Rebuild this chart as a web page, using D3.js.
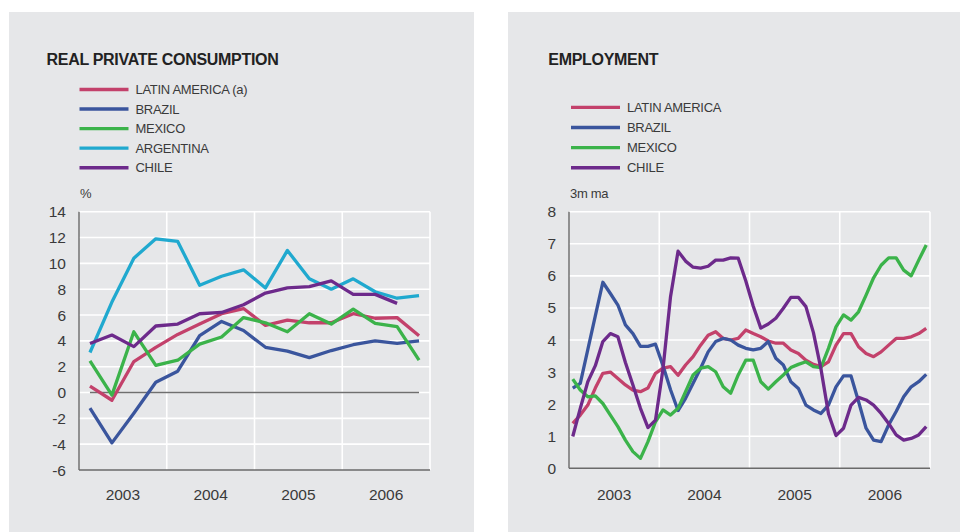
<!DOCTYPE html>
<html>
<head>
<meta charset="utf-8">
<style>
  body { margin: 0; background: #fff; }
  svg { font-family: "Liberation Sans", Arial, sans-serif; display: block; }
  .title { font-size: 16px; font-weight: bold; fill: #222; letter-spacing: -0.3px; }
  .legend text, .unit { font-size: 13px; fill: #3a3a3a; letter-spacing: -0.3px; }
  .tick { font-size: 15.5px; fill: #3a3a3a; }
</style>
</head>
<body>
<svg width="960" height="532"></svg>
<script src="https://d3js.org/d3.v7.min.js"></script>
<script>

// ---- data ----
var years = ["2003", "2004", "2005", "2006"];

// real private consumption, quarterly, %
var rpcYTicks = [-6, -4, -2, 0, 2, 4, 6, 8, 10, 12, 14];
var rpcLatam     = [0.5, -0.6, 2.4, 3.5, 4.5, 5.3, 6.1, 6.5, 5.2, 5.6, 5.4, 5.4, 6.1, 5.75, 5.8, 4.4];
var rpcBrazil    = [-1.2, -3.9, -1.6, 0.8, 1.65, 4.4, 5.5, 4.8, 3.5, 3.2, 2.7, 3.25, 3.7, 4.0, 3.8, 4.0];
var rpcMexico    = [2.45, -0.2, 4.7, 2.1, 2.5, 3.75, 4.3, 5.8, 5.4, 4.7, 6.1, 5.3, 6.45, 5.35, 5.1, 2.5];
var rpcArgentina = [3.1, 7.0, 10.4, 11.9, 11.7, 8.3, 9.0, 9.5, 8.1, 11.0, 8.8, 8.0, 8.8, 7.8, 7.3, 7.5];
var rpcChile     = [3.8, 4.45, 3.55, 5.15, 5.3, 6.1, 6.2, 6.8, 7.7, 8.1, 8.2, 8.65, 7.6, 7.6, 6.9, null];

// employment, monthly, 3m ma
var empYTicks = [0, 1, 2, 3, 4, 5, 6, 7, 8];
var empLatam = [
  1.4, 1.66, 1.97, 2.5, 2.96, 3.0, 2.8, 2.6, 2.44, 2.39, 2.5, 2.96,
  3.12, 3.17, 2.9, 3.22, 3.48, 3.84, 4.15, 4.26, 4.05, 4.0, 4.05, 4.31,
  4.2, 4.1, 3.97, 3.9, 3.9, 3.69, 3.58, 3.37, 3.24, 3.17, 3.32, 3.84,
  4.2, 4.2, 3.79, 3.58, 3.48, 3.63, 3.84, 4.05, 4.05, 4.1, 4.2, 4.36];
var empBrazil = [
  2.5, 2.65, 3.7, 4.75, 5.8, 5.45, 5.09, 4.47, 4.2, 3.8, 3.8, 3.87,
  3.2, 2.45, 1.8, 2.18, 2.65, 3.12, 3.63, 3.95, 4.05, 4.0, 3.84, 3.74,
  3.69, 3.74, 3.95, 3.43, 3.22, 2.7, 2.49, 1.97, 1.82, 1.71, 1.97, 2.54,
  2.88, 2.88, 2.08, 1.25, 0.88, 0.83, 1.35, 1.77, 2.23, 2.54, 2.7, 2.93];
var empMexico = [
  2.78, 2.44, 2.23, 2.26, 2.02, 1.66, 1.3, 0.88, 0.52, 0.31, 0.83, 1.45,
  1.82, 1.66, 1.87, 2.39, 2.91, 3.12, 3.17, 3.01, 2.54, 2.34, 2.91, 3.37,
  3.37, 2.7, 2.47, 2.7, 2.91, 3.14, 3.24, 3.32, 3.17, 3.14, 3.74, 4.41,
  4.78, 4.62, 4.88, 5.4, 5.94, 6.33, 6.56, 6.56, 6.18, 6.0, 6.49, 6.96];
var empChile = [
  0.99, 1.87, 2.7, 3.2, 3.95, 4.2, 4.1, 3.3, 2.6, 1.87, 1.27, 1.5,
  3.1, 5.35, 6.77, 6.46, 6.27, 6.24, 6.3, 6.49, 6.49, 6.56, 6.55, 5.85,
  5.05, 4.37, 4.5, 4.68, 4.99, 5.33, 5.33, 5.04, 4.23, 3.1, 1.7, 1.02,
  1.25, 1.97, 2.21, 2.13, 1.97, 1.71, 1.4, 1.04, 0.88, 0.93, 1.04, 1.3];

var colors = {
  latam: "#c3416b",
  brazil: "#3a559d",
  mexico: "#3bb34a",
  argentina: "#20a9cf",
  chile: "#6d2a8b"
};

var svg = d3.select("svg");

function drawPanel(p) {
  var g = svg.append("g");

  g.append("rect")
      .attr("x", p.panel[0]).attr("y", 12)
      .attr("width", p.panel[1] - p.panel[0]).attr("height", 520)
      .attr("fill", "#e6e7e9");

  g.append("text").attr("class", "title")
      .attr("x", p.titleX).attr("y", 65)
      .text(p.title);

  // legend
  var lg = g.append("g").attr("class", "legend");
  p.series.forEach(function(s, i) {
    var y = p.legendY + i * p.legendStep;
    lg.append("line")
        .attr("x1", p.legendX).attr("x2", p.legendX + 49)
        .attr("y1", y).attr("y2", y)
        .attr("stroke", s.color).attr("stroke-width", 3.4);
    lg.append("text")
        .attr("x", p.legendX + 56).attr("y", y + 4.6)
        .text(s.name);
  });

  g.append("text").attr("class", "unit")
      .attr("x", p.x0 + 1).attr("y", 198)
      .text(p.unit);

  var n = p.series[0].values.length;
  var x = d3.scaleLinear().domain([0, n]).range([p.x0, p.x1]);
  var y = d3.scaleLinear().domain(d3.extent(p.yTicks)).range([p.y1, p.y0]);
  var per = n / years.length;

  // gridlines
  g.selectAll(".hg").data(p.yTicks.slice(1)).enter().append("line")
      .attr("x1", p.x0).attr("x2", p.x1)
      .attr("y1", function(d) { return y(d); }).attr("y2", function(d) { return y(d); })
      .attr("stroke", "#fff").attr("stroke-width", 1.6);
  g.selectAll(".vg").data(years).enter().append("line")
      .attr("x1", function(d, i) { return x((i + 1) * per); })
      .attr("x2", function(d, i) { return x((i + 1) * per); })
      .attr("y1", p.y0).attr("y2", p.y1)
      .attr("stroke", "#fff").attr("stroke-width", 1.6);

  if (p.zeroLine) {
    g.append("line")
        .attr("x1", x(0.5)).attr("x2", x(n - 0.5))
        .attr("y1", y(0)).attr("y2", y(0))
        .attr("stroke", "#6f6f6f").attr("stroke-width", 1.3);
  }

  // axes lines
  g.append("line")
      .attr("x1", p.x0).attr("x2", p.x0).attr("y1", p.y0).attr("y2", p.y1)
      .attr("stroke", "#6a6a6a").attr("stroke-width", 1.4);
  g.append("line")
      .attr("x1", p.x0).attr("x2", p.x1).attr("y1", p.y1).attr("y2", p.y1)
      .attr("stroke", "#6a6a6a").attr("stroke-width", 1.4);

  // tick labels
  g.selectAll(".yt").data(p.yTicks).enter().append("text")
      .attr("class", "tick")
      .attr("text-anchor", "end")
      .attr("x", p.x0 - 13)
      .attr("y", function(d) { return y(d) + 5.5; })
      .text(function(d) { return d; });
  g.selectAll(".xt").data(years).enter().append("text")
      .attr("class", "tick")
      .attr("text-anchor", "middle")
      .attr("x", function(d, i) { return x((i + 0.5) * per); })
      .attr("y", 500)
      .text(function(d) { return d; });

  // series lines
  var line = d3.line()
      .defined(function(d) { return d != null; })
      .x(function(d, i) { return x(i + 0.5); })
      .y(function(d) { return y(d); });

  p.series.forEach(function(s) {
    g.append("path")
        .attr("d", line(s.values))
        .attr("fill", "none")
        .attr("stroke", s.color)
        .attr("stroke-width", 3.3)
        .attr("stroke-linejoin", "round");
  });
}

drawPanel({
  panel: [9, 474],
  title: "REAL PRIVATE CONSUMPTION",
  titleX: 46.5,
  legendX: 79.5, legendY: 89.5, legendStep: 19.55,
  unit: "%",
  x0: 79, x1: 430, y0: 211.7, y1: 470,
  yTicks: rpcYTicks,
  zeroLine: true,
  series: [
    { name: "LATIN AMERICA (a)", color: colors.latam, values: rpcLatam },
    { name: "BRAZIL", color: colors.brazil, values: rpcBrazil },
    { name: "MEXICO", color: colors.mexico, values: rpcMexico },
    { name: "ARGENTINA", color: colors.argentina, values: rpcArgentina },
    { name: "CHILE", color: colors.chile, values: rpcChile }
  ]
});

drawPanel({
  panel: [508, 960],
  title: "EMPLOYMENT",
  titleX: 548.3,
  legendX: 571, legendY: 107.4, legendStep: 20.1,
  unit: "3m ma",
  x0: 569, x1: 930, y0: 211.7, y1: 468.3,
  yTicks: empYTicks,
  zeroLine: false,
  series: [
    { name: "LATIN AMERICA", color: colors.latam, values: empLatam },
    { name: "BRAZIL", color: colors.brazil, values: empBrazil },
    { name: "MEXICO", color: colors.mexico, values: empMexico },
    { name: "CHILE", color: colors.chile, values: empChile }
  ]
});

</script>
</body>
</html>
